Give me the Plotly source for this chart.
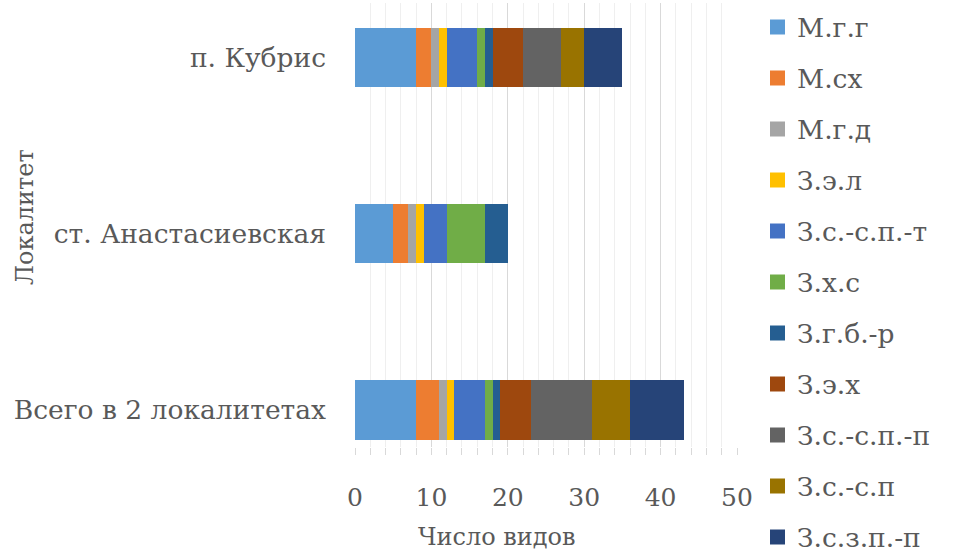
import plotly.graph_objects as go

# Localities (bottom to top on the chart)
localities = ["Всего в 2 локалитетах", "ст. Анастасиевская", "п. Кубрис"]

# Species groups and the number of species per locality
groups = ["М.г.г", "М.сх", "М.г.д", "З.э.л", "З.с.-с.п.-т", "З.х.с",
          "З.г.б.-р", "З.э.х", "З.с.-с.п.-п", "З.с.-с.п", "З.с.з.п.-п"]
counts_total = [8, 3, 1, 1, 4, 1, 1, 4, 8, 5, 7]
counts_anast = [5, 2, 1, 1, 3, 5, 3, 0, 0, 0, 0]
counts_kubris = [8, 2, 1, 1, 4, 1, 1, 4, 5, 3, 5]

colors = ["#5B9BD5", "#ED7D31", "#A5A5A5", "#FFC000", "#4472C4", "#70AD47",
          "#255E91", "#9E480E", "#636363", "#997300", "#264478"]

x_ticks = [0, 10, 20, 30, 40, 50]

FONT = "DejaVu Serif"
TXT = "#595959"

W, H = 962, 553
PL, PR, PT, PB = 355, 737, 3, 447   # plot area in pixels


def px(x):
    return (x - PL) / (PR - PL)


def py(y):
    return (PB - y) / (PB - PT)


fig = go.Figure()
for i, g in enumerate(groups):
    fig.add_trace(go.Bar(
        y=localities,
        x=[counts_total[i], counts_anast[i], counts_kubris[i]],
        name=g,
        orientation="h",
        marker=dict(color=colors[i], line=dict(width=0)),
        width=0.335,
        showlegend=False,
    ))

# Legend drawn as squares plus labels, one row per species group
shapes = []
annotations = []
row_top, row_step, sq = 27, 51, 15
for i, g in enumerate(groups):
    yc = row_top + i * row_step
    shapes.append(dict(type="rect", xref="paper", yref="paper",
                       x0=px(770), x1=px(770 + sq),
                       y0=py(yc + sq / 2), y1=py(yc - sq / 2),
                       fillcolor=colors[i], line=dict(width=0)))
    annotations.append(dict(text=g, xref="paper", yref="paper",
                            x=px(795), y=py(yc), xanchor="left", yanchor="middle",
                            showarrow=False,
                            font=dict(family=FONT, size=26.5, color=TXT)))

annotations += [
    dict(text="Число видов", xref="paper", yref="paper",
         x=px(497), y=py(537), xanchor="center", yanchor="middle", showarrow=False,
         font=dict(family=FONT, size=24, color=TXT)),
    dict(text="Локалитет", xref="paper", yref="paper",
         x=px(25), y=py(217), xanchor="center", yanchor="middle", showarrow=False,
         textangle=-90, font=dict(family=FONT, size=24, color=TXT)),
]

fig.update_layout(
    width=W, height=H,
    margin=dict(l=PL, r=W - PR, t=PT, b=H - PB),
    barmode="stack",
    plot_bgcolor="white", paper_bgcolor="white",
    font=dict(family=FONT, color=TXT, size=26),
    showlegend=False,
    shapes=shapes,
    annotations=annotations,
    xaxis=dict(
        range=[0, 50], tickvals=x_ticks, ticktext=[str(v) for v in x_ticks],
        showgrid=True, gridcolor="#D9D9D9", gridwidth=1,
        zeroline=False, showline=False,
        ticks="", ticklabelstandoff=33,
        tickfont=dict(family=FONT, size=25, color=TXT),
        minor=dict(dtick=2, showgrid=True, gridcolor="#EFEFEF", gridwidth=1,
                   ticks="outside", ticklen=7, tickcolor="#D9D9D9"),
    ),
    yaxis=dict(
        type="category", categoryorder="array", categoryarray=localities,
        range=[-0.21, 2.31],
        showgrid=False, zeroline=False, showline=False,
        ticks="", ticklabelstandoff=28,
        tickfont=dict(family=FONT, size=26.5, color=TXT),
    ),
)

fig.write_html("out.html")
